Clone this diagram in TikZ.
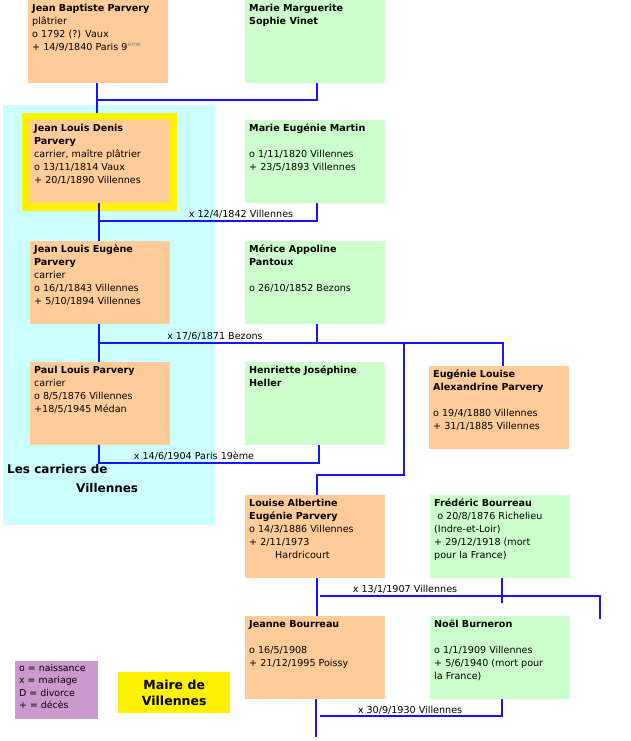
\documentclass[tikz,border=0pt]{standalone}
\usepackage{fontspec}
\setmainfont{DejaVu Sans}
\begin{document}
\begin{tikzpicture}[x=1pt,y=-1pt,
  box/.style={draw=none,anchor=north west,minimum width=140pt,minimum height=83pt,inner sep=0pt},
  orange/.style={box,fill={rgb,255:red,255;green,204;blue,153}},
  green/.style={box,fill={rgb,255:red,204;green,255;blue,204}},
  txt/.style={anchor=north west,align=left,inner sep=0pt,font=\fontsize{9.6}{13}\selectfont},
  lnk/.style={draw={rgb,255:red,20;green,20;blue,255},line width=1.6pt},
  lab/.style={font=\fontsize{9.6}{11}\selectfont,inner sep=0pt,anchor=base}]
\useasboundingbox (0,0) rectangle (631,741);
\fill[fill={rgb,255:red,204;green,255;blue,255}] (3,105) rectangle (215,525);
\fill[yellow] (22,113) rectangle (177,211);
\newcommand{\pers}[5]{\node[#4] (#1) at (#2,#3) {};
  \node[txt] (#1t) at ([shift={(4pt,-4pt)}]#1.north west) {#5};}
\pers{jbp}{28}{0}{orange}{\textbf{Jean Baptiste Parvery}\\plâtrier\\o 1792 (?) Vaux\\+ 14/9/1840 Paris 9\raisebox{0.7ex}{\textcolor{gray}{\fontsize{6}{6}\selectfont ème}}}
\pers{mmsv}{245}{0}{green}{\textbf{Marie Marguerite}\\\textbf{Sophie Vinet}}
\pers{jld}{30}{120}{orange}{\textbf{Jean Louis Denis}\\\textbf{Parvery}\\carrier, maître plâtrier\\o 13/11/1814 Vaux\\+ 20/1/1890 Villennes}
\pers{mem}{245}{120}{green}{\textbf{Marie Eugénie Martin}\\[13pt]o 1/11/1820 Villennes\\+ 23/5/1893 Villennes}
\pers{jle}{30}{241}{orange}{\textbf{Jean Louis Eugène}\\\textbf{Parvery}\\carrier\\o 16/1/1843 Villennes\\+ 5/10/1894 Villennes}
\pers{map}{245}{241}{green}{\textbf{Mérice Appoline}\\\textbf{Pantoux}\\[13pt]o 26/10/1852 Bezons}
\pers{plp}{30}{362}{orange}{\textbf{Paul Louis Parvery}\\carrier\\o 8/5/1876 Villennes\\+18/5/1945 Médan}
\pers{hjh}{245}{362}{green}{\textbf{Henriette Joséphine}\\\textbf{Heller}}
\pers{ela}{429}{366}{orange}{\textbf{Eugénie Louise}\\\textbf{Alexandrine Parvery}\\[13pt]o 19/4/1880 Villennes\\+ 31/1/1885 Villennes}
\pers{lae}{245}{495}{orange}{\textbf{Louise Albertine}\\\textbf{Eugénie Parvery}\\o 14/3/1886 Villennes\\+ 2/11/1973\\\hspace*{26pt}Hardricourt}
\pers{fb}{430}{495}{green}{\textbf{Frédéric Bourreau}\\\ o 20/8/1876 Richelieu\\(Indre-et-Loir)\\+ 29/12/1918 (mort\\pour la France)}
\pers{jb}{245}{616}{orange}{\textbf{Jeanne Bourreau}\\[13pt]o 16/5/1908\\+ 21/12/1995 Poissy}
\pers{nb}{430}{616}{green}{\textbf{Noël Burneron}\\[13pt]o 1/1/1909 Villennes\\+ 5/6/1940 (mort pour\\la France)}
% legend
\node[draw=none,fill={rgb,255:red,204;green,153;blue,204},anchor=north west,minimum width=83pt,minimum height=58pt,inner sep=0pt] (leg) at (15,661) {};
\node[txt,font=\fontsize{9.4}{12.5}\selectfont] (legt) at (19,664) {o = naissance\\x = mariage\\D = divorce\\+ = décès};
\node[fill=yellow,anchor=north west,minimum width=112pt,minimum height=41pt,inner sep=0pt,align=center,font=\fontsize{12.5}{16}\selectfont\bfseries] (maire) at (118,672) {Maire de\\Villennes};
\node[anchor=north west,inner sep=0pt,font=\fontsize{12}{13}\selectfont\bfseries] (lc1) at (7,464) {Les carriers de};
\node[anchor=north west,inner sep=0pt,font=\fontsize{12}{13}\selectfont\bfseries] (lc2) at (76,483) {Villennes};
% connectors
\coordinate (c1) at (97,100); \coordinate (c2) at (317,100); \coordinate (c0) at (97,113);
\draw[lnk] (jbp.south -| c1) -- (c0);
\draw[lnk] (c1) -- (c2) -- (mmsv.south -| c2);
\coordinate (d1) at (99,221); \coordinate (d2) at (317,221);
\draw[lnk] (jld.south -| d1) -- (jle.north -| d1);
\draw[lnk] (d1) -- (d2) -- (mem.south -| d2);
\node[lab] (l1) at (241,217) {x 12/4/1842 Villennes};
\coordinate (e1) at (99,343); \coordinate (e2) at (317,343); \coordinate (e3) at (404,343); \coordinate (e4) at (503,343);
\draw[lnk] (jle.south -| e1) -- (plp.north -| e1);
\draw[lnk] (e1) -- (e4) -- (e4 |- ela.north);
\draw[lnk] (e2) -- (map.south -| e2);
\coordinate (e5) at (404,475); \coordinate (e6) at (317,475);
\draw[lnk] (e3) -- (e5) -- (e6) -- (lae.north -| e6);
\node[lab] (l2) at (215,339) {x 17/6/1871 Bezons};
\coordinate (f1) at (99,463); \coordinate (f2) at (319,463);
\draw[lnk] (plp.south -| f1) -- (f1) -- (f2) -- (hjh.south -| f2);
\node[lab] (l3) at (194,459) {x 14/6/1904 Paris 19ème};
\coordinate (g0) at (317,596); \coordinate (g1) at (320,596); \coordinate (g2) at (600,596); \coordinate (g3) at (600,619); \coordinate (g4) at (502,603);
\draw[lnk] (lae.south -| g0) -- (jb.north -| g0);
\draw[lnk] (g1) -- (g2) -- (g3);
\draw[lnk] (fb.south -| g4) -- (g4);
\node[lab] (l4) at (405,592) {x 13/1/1907 Villennes};
\coordinate (h1) at (316,737); \coordinate (h2) at (320,716); \coordinate (h3) at (502,716);
\draw[lnk] (jb.south -| h1) -- (h1);
\draw[lnk] (h2) -- (h3) -- (nb.south -| h3);
\node[lab] (l5) at (410,713) {x 30/9/1930 Villennes};
\end{tikzpicture}
\end{document}
